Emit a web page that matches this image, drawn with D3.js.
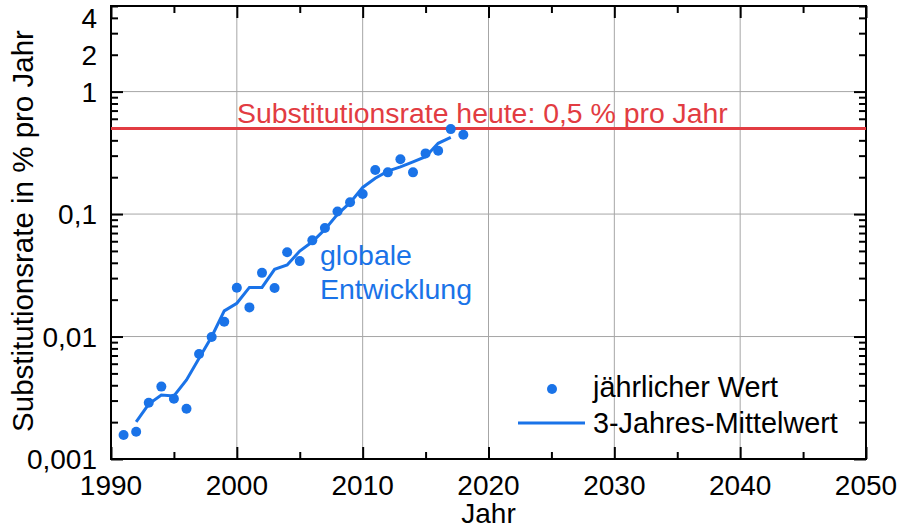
<!DOCTYPE html>
<html>
<head>
<meta charset="utf-8">
<script src="https://cdn.jsdelivr.net/npm/d3@7"></script>
<style>
    body { margin: 0; background: #fff; }
    text { font-family: "Liberation Sans", Arial, sans-serif; }
</style>
</head>
<body>
<div id="chart"></div>
<script>
// jährliche Werte
var years = [1991, 1992, 1993, 1994, 1995, 1996, 1997, 1998, 1999, 2000,
    2001, 2002, 2003, 2004, 2005, 2006, 2007, 2008, 2009, 2010,
    2011, 2012, 2013, 2014, 2015, 2016, 2017, 2018];
var yearly = [0.00157, 0.00167, 0.00288, 0.0039, 0.0031, 0.00257, 0.0072, 0.0099, 0.0132, 0.025,
    0.0173, 0.0331, 0.0249, 0.0487, 0.0413, 0.061, 0.0769, 0.105, 0.125, 0.146,
    0.229, 0.219, 0.28, 0.219, 0.313, 0.329, 0.494, 0.444];

// 3-Jahres-Mittelwert
var meanYears = [1992, 1993, 1994, 1995, 1996, 1997, 1998, 1999, 2000, 2001,
    2002, 2003, 2004, 2005, 2006, 2007, 2008, 2009, 2010, 2011,
    2012, 2013, 2014, 2015, 2016, 2017];
var mean3 = [0.00201, 0.00281, 0.00333, 0.00327, 0.00442, 0.00664, 0.00996, 0.0162, 0.0187, 0.0252,
    0.0252, 0.0354, 0.0384, 0.0499, 0.0594, 0.075, 0.0995, 0.124, 0.165, 0.196,
    0.224, 0.243, 0.267, 0.294, 0.378, 0.423];

var todayRate = 0.5;

var xTicks = [1990, 2000, 2010, 2020, 2030, 2040, 2050];
var xMinor = [1995, 2005, 2015, 2025, 2035, 2045];
var yTicks = [0.001, 0.01, 0.1, 1, 2, 4];
var yTickLabels = ["0,001", "0,01", "0,1", "1", "2", "4"];
var yGrid = [0.01, 0.1, 1];

var width = 900;
var height = 528;
var blue = "#1a73e8";
var red = "#e23c42";

var svg = d3.select("#chart")
    .append('svg')
    .attr('width', width)
    .attr('height', height);

var x = d3.scaleLinear().domain([1990, 2050]).range([111, 866]);
var y = d3.scaleLog().domain([0.001, 5]).range([459, 6]);

// minor log ticks 2..9 per decade
var yMinor = [];
[0.001, 0.01, 0.1, 1].forEach(function (d) {
    for (var k = 2; k <= 9; k++) {
        if (d * k <= 5) yMinor.push(d * k);
    }
});

// grid
svg.append('g').selectAll('line')
    .data(xTicks.slice(1, -1))
    .enter()
    .append('line')
    .attr('x1', function (d) { return x(d); })
    .attr('x2', function (d) { return x(d); })
    .attr('y1', y(5))
    .attr('y2', y(0.001))
    .attr('stroke', '#a6a6a6')
    .attr('stroke-width', 1);

svg.append('g').selectAll('line')
    .data(yGrid)
    .enter()
    .append('line')
    .attr('x1', x(1990))
    .attr('x2', x(2050))
    .attr('y1', function (d) { return y(d); })
    .attr('y2', function (d) { return y(d); })
    .attr('stroke', '#a6a6a6')
    .attr('stroke-width', 1);

// axes (ticks inside, on all four sides)
var big = 12, small = 7;
svg.append('g')
    .attr('transform', 'translate(0,' + y(0.001) + ')')
    .call(d3.axisBottom(x).tickValues(xTicks).tickSize(-big).tickFormat(''));
svg.append('g')
    .attr('transform', 'translate(0,' + y(0.001) + ')')
    .call(d3.axisBottom(x).tickValues(xMinor).tickSize(-small).tickFormat(''));
svg.append('g')
    .attr('transform', 'translate(0,' + y(5) + ')')
    .call(d3.axisTop(x).tickValues(xTicks).tickSize(-big).tickFormat(''));
svg.append('g')
    .attr('transform', 'translate(0,' + y(5) + ')')
    .call(d3.axisTop(x).tickValues(xMinor).tickSize(-small).tickFormat(''));
svg.append('g')
    .attr('transform', 'translate(' + x(1990) + ',0)')
    .call(d3.axisLeft(y).tickValues([0.001, 0.01, 0.1, 1]).tickSize(-big).tickFormat(''));
svg.append('g')
    .attr('transform', 'translate(' + x(1990) + ',0)')
    .call(d3.axisLeft(y).tickValues(yMinor).tickSize(-small).tickFormat(''));
svg.append('g')
    .attr('transform', 'translate(' + x(2050) + ',0)')
    .call(d3.axisRight(y).tickValues([0.001, 0.01, 0.1, 1]).tickSize(-big).tickFormat(''));
svg.append('g')
    .attr('transform', 'translate(' + x(2050) + ',0)')
    .call(d3.axisRight(y).tickValues(yMinor).tickSize(-small).tickFormat(''));

svg.selectAll('.domain').remove();
svg.selectAll('.tick line').attr('stroke', '#000').attr('stroke-width', 2);

// frame
svg.append('rect')
    .attr('x', x(1990))
    .attr('y', y(5))
    .attr('width', x(2050) - x(1990))
    .attr('height', y(0.001) - y(5))
    .attr('fill', 'none')
    .attr('stroke', '#000')
    .attr('stroke-width', 2);

// tick labels
svg.append('g').selectAll('text')
    .data(xTicks)
    .enter()
    .append('text')
    .attr('x', function (d) { return x(d); })
    .attr('y', 495)
    .attr('text-anchor', 'middle')
    .attr('font-size', 28)
    .text(function (d) { return d; });

svg.append('g').selectAll('text')
    .data(yTicks)
    .enter()
    .append('text')
    .attr('x', 97)
    .attr('y', function (d) { return y(d); })
    .attr('dy', '0.36em')
    .attr('text-anchor', 'end')
    .attr('font-size', 28)
    .text(function (d, i) { return yTickLabels[i]; });

// axis titles
svg.append('text')
    .attr('x', x(2020))
    .attr('y', 523)
    .attr('text-anchor', 'middle')
    .attr('font-size', 28)
    .text('Jahr');

svg.append('text')
    .attr('transform', 'translate(33,231) rotate(-90)')
    .attr('text-anchor', 'middle')
    .attr('font-size', 29.5)
    .text('Substitutionsrate in % pro Jahr');

// red line for current rate
svg.append('line')
    .attr('x1', x(1990))
    .attr('x2', x(2050))
    .attr('y1', y(todayRate))
    .attr('y2', y(todayRate))
    .attr('stroke', red)
    .attr('stroke-width', 3);

svg.append('text')
    .attr('x', 237)
    .attr('y', 123)
    .attr('fill', red)
    .attr('font-size', 28.4)
    .text('Substitutionsrate heute: 0,5 % pro Jahr');

// 3-year mean line
var line = d3.line()
    .x(function (d, i) { return x(meanYears[i]); })
    .y(function (d) { return y(d); });

svg.append('path')
    .datum(mean3)
    .attr('d', line)
    .attr('fill', 'none')
    .attr('stroke', blue)
    .attr('stroke-width', 3);

// yearly dots
svg.append('g').selectAll('circle')
    .data(yearly)
    .enter()
    .append('circle')
    .attr('cx', function (d, i) { return x(years[i]); })
    .attr('cy', function (d) { return y(d); })
    .attr('r', 5)
    .attr('fill', blue);

// annotation
svg.append('text')
    .attr('x', 320)
    .attr('y', 265)
    .attr('fill', blue)
    .attr('font-size', 28.5)
    .text('globale');
svg.append('text')
    .attr('x', 320)
    .attr('y', 299)
    .attr('fill', blue)
    .attr('font-size', 28.5)
    .text('Entwicklung');

// legend
svg.append('circle')
    .attr('cx', 552)
    .attr('cy', 389)
    .attr('r', 5)
    .attr('fill', blue);
svg.append('text')
    .attr('x', 593)
    .attr('y', 397)
    .attr('font-size', 28.8)
    .text('jährlicher Wert');
svg.append('line')
    .attr('x1', 518)
    .attr('x2', 585)
    .attr('y1', 423)
    .attr('y2', 423)
    .attr('stroke', blue)
    .attr('stroke-width', 3);
svg.append('text')
    .attr('x', 593)
    .attr('y', 433)
    .attr('font-size', 28.8)
    .text('3-Jahres-Mittelwert');
</script>
</body>
</html>
